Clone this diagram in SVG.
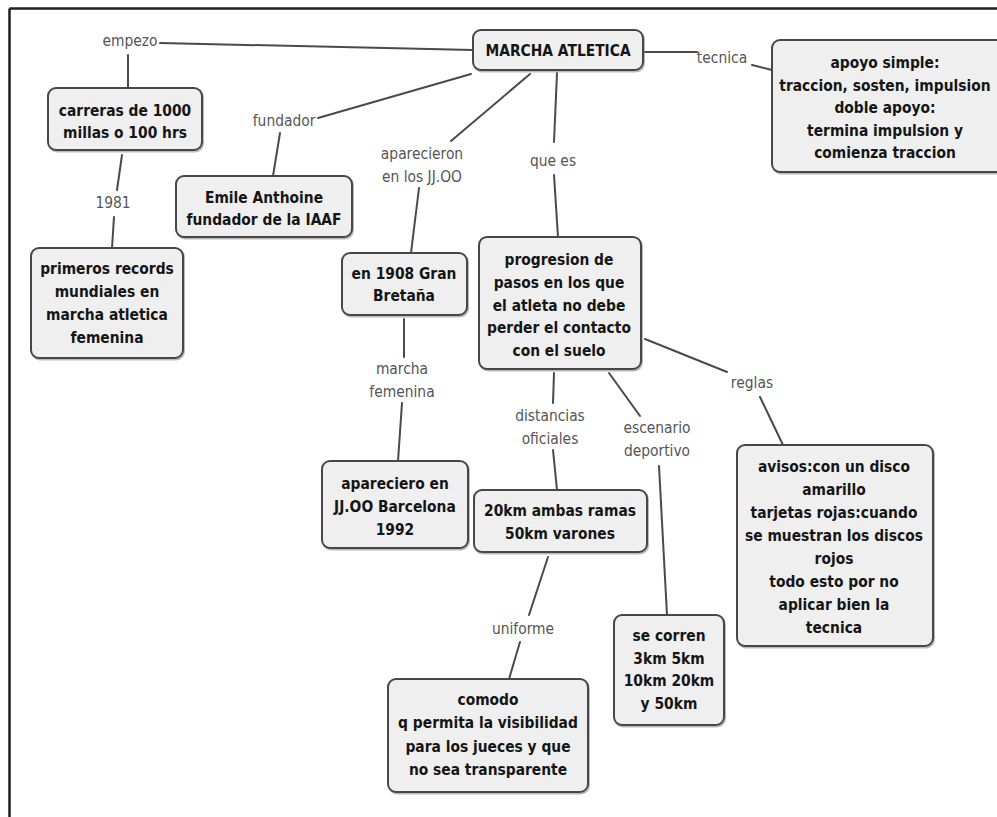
<svg xmlns="http://www.w3.org/2000/svg" width="997" height="817" viewBox="0 0 997 817">
  <style>
    .frame { stroke: #1e1e1e; stroke-width: 2.5; fill: none; }
    .box { fill: #efefef; stroke: #474747; stroke-width: 2; }
    .shadow { fill: none; stroke: #8a8a8a; stroke-width: 2; opacity: 0.6; }
    text { transform-box: fill-box; transform-origin: 50% 50%; transform: scaleX(0.84); }
    .node-text { font-family: "DejaVu Sans", Verdana, sans-serif; font-weight: bold; font-size: 16.5px; fill: #151515; text-anchor: middle; }
    .link-text { font-family: "DejaVu Sans", Verdana, sans-serif; font-size: 16.5px; fill: #555555; text-anchor: middle; }
    .link { stroke: #4a4a4a; stroke-width: 2; fill: none; stroke-linecap: round; }
  </style>

  <rect x="0" y="0" width="997" height="817" fill="#ffffff"/>

  <!-- page frame (top and left edges) -->
  <line class="frame" x1="9.5" y1="8.5" x2="997" y2="8.5"/>
  <line class="frame" x1="9.5" y1="8.5" x2="9.5" y2="817"/>

  <!-- connectors -->
  <g id="connectors">
    <line class="link" x1="160" y1="43" x2="473" y2="50"/>
    <line class="link" x1="128" y1="55" x2="128" y2="88"/>
    <line class="link" x1="122" y1="155" x2="117" y2="190"/>
    <line class="link" x1="114" y1="217" x2="112" y2="248"/>
    <line class="link" x1="471" y1="74" x2="318" y2="118"/>
    <line class="link" x1="280" y1="133" x2="273" y2="176"/>
    <line class="link" x1="530" y1="74" x2="451" y2="141"/>
    <line class="link" x1="419" y1="188" x2="411" y2="253"/>
    <line class="link" x1="557" y1="73" x2="554" y2="142"/>
    <line class="link" x1="554" y1="175" x2="558" y2="237"/>
    <line class="link" x1="643" y1="52" x2="697" y2="52"/>
    <line class="link" x1="752" y1="65" x2="772" y2="70"/>
    <line class="link" x1="404" y1="319" x2="404" y2="357"/>
    <line class="link" x1="402" y1="403" x2="398" y2="461"/>
    <line class="link" x1="554" y1="373" x2="553" y2="403"/>
    <line class="link" x1="553" y1="450" x2="557" y2="490"/>
    <line class="link" x1="609" y1="373" x2="640" y2="416"/>
    <line class="link" x1="659" y1="466" x2="667" y2="615"/>
    <line class="link" x1="645" y1="339" x2="727" y2="372"/>
    <line class="link" x1="760" y1="397" x2="783" y2="445"/>
    <line class="link" x1="548" y1="557" x2="529" y2="615"/>
    <line class="link" x1="520" y1="642" x2="509" y2="679"/>
  </g>

  <!-- connector labels -->
  <g id="labels">
    <text class="link-text" x="130" y="46.5">empezo</text>
    <text class="link-text" x="284" y="126.5">fundador</text>
    <text class="link-text" x="113" y="208.5">1981</text>
    <text class="link-text" x="422" y="159.5">aparecieron</text>
    <text class="link-text" x="422" y="182">en los JJ.OO</text>
    <text class="link-text" x="553" y="166.5">que es</text>
    <text class="link-text" x="722" y="63.5">tecnica</text>
    <text class="link-text" x="402" y="374.5">marcha</text>
    <text class="link-text" x="402" y="397.5">femenina</text>
    <text class="link-text" x="550" y="421.5">distancias</text>
    <text class="link-text" x="550" y="444.5">oficiales</text>
    <text class="link-text" x="657" y="433.5">escenario</text>
    <text class="link-text" x="657" y="456.5">deportivo</text>
    <text class="link-text" x="752" y="388.5">reglas</text>
    <text class="link-text" x="523" y="634.5">uniforme</text>
  </g>

  <!-- concept nodes -->
  <g id="marcha-atletica">
    <rect class="shadow" x="474" y="31.5" width="170" height="40" rx="8"/>
    <rect class="box" x="473" y="30" width="170" height="40" rx="8"/>
    <text class="node-text" x="558" y="56.5">MARCHA ATLETICA</text>
  </g>

  <g id="tecnica">
    <rect class="shadow" x="773" y="41.5" width="232" height="132" rx="8"/>
    <rect class="box" x="772" y="40" width="232" height="132" rx="8"/>
    <text class="node-text" x="885" y="68.5">apoyo simple:</text>
    <text class="node-text" x="885" y="91">traccion, sosten, impulsion</text>
    <text class="node-text" x="885" y="113.5">doble apoyo:</text>
    <text class="node-text" x="885" y="136">termina impulsion y</text>
    <text class="node-text" x="885" y="158.5">comienza traccion</text>
  </g>

  <g id="carreras">
    <rect class="shadow" x="49" y="89.5" width="154" height="62" rx="8"/>
    <rect class="box" x="48" y="88" width="154" height="62" rx="8"/>
    <text class="node-text" x="125" y="116.5">carreras de 1000</text>
    <text class="node-text" x="125" y="138.5">millas o 100 hrs</text>
  </g>

  <g id="emile">
    <rect class="shadow" x="177" y="177.5" width="176" height="61" rx="8"/>
    <rect class="box" x="176" y="176" width="176" height="61" rx="8"/>
    <text class="node-text" x="264" y="203.5">Emile Anthoine</text>
    <text class="node-text" x="264" y="225">fundador de la IAAF</text>
  </g>

  <g id="primeros-records">
    <rect class="shadow" x="32" y="249.5" width="152" height="110" rx="8"/>
    <rect class="box" x="31" y="248" width="152" height="110" rx="8"/>
    <text class="node-text" x="107" y="274.5">primeros records</text>
    <text class="node-text" x="107" y="297.5">mundiales en</text>
    <text class="node-text" x="107" y="320.5">marcha atletica</text>
    <text class="node-text" x="107" y="343.5">femenina</text>
  </g>

  <g id="gran-bretana">
    <rect class="shadow" x="343" y="254.5" width="125" height="62" rx="8"/>
    <rect class="box" x="342" y="253" width="125" height="62" rx="8"/>
    <text class="node-text" x="404" y="279.5">en 1908 Gran</text>
    <text class="node-text" x="404" y="301.5">Bretaña</text>
  </g>

  <g id="barcelona">
    <rect class="shadow" x="323" y="462.5" width="146" height="87" rx="8"/>
    <rect class="box" x="322" y="461" width="146" height="87" rx="8"/>
    <text class="node-text" x="395" y="489.5">apareciero en</text>
    <text class="node-text" x="395" y="512.5">JJ.OO Barcelona</text>
    <text class="node-text" x="395" y="535">1992</text>
  </g>

  <g id="progresion">
    <rect class="shadow" x="480" y="238.5" width="162" height="132" rx="8"/>
    <rect class="box" x="479" y="237" width="162" height="132" rx="8"/>
    <text class="node-text" x="559" y="265.5">progresion de</text>
    <text class="node-text" x="559" y="288">pasos en los que</text>
    <text class="node-text" x="559" y="311">el atleta no debe</text>
    <text class="node-text" x="559" y="333.5">perder el contacto</text>
    <text class="node-text" x="559" y="356">con el suelo</text>
  </g>

  <g id="distancias">
    <rect class="shadow" x="475" y="491.5" width="173" height="62" rx="8"/>
    <rect class="box" x="474" y="490" width="173" height="62" rx="8"/>
    <text class="node-text" x="560" y="516.5">20km ambas ramas</text>
    <text class="node-text" x="560" y="539.5">50km varones</text>
  </g>

  <g id="reglas">
    <rect class="shadow" x="738" y="446.5" width="196" height="201" rx="8"/>
    <rect class="box" x="737" y="445" width="196" height="201" rx="8"/>
    <text class="node-text" x="834" y="472.5">avisos:con un disco</text>
    <text class="node-text" x="834" y="495.5">amarillo</text>
    <text class="node-text" x="834" y="518.5">tarjetas rojas:cuando</text>
    <text class="node-text" x="834" y="541.5">se muestran los discos</text>
    <text class="node-text" x="834" y="564.5">rojos</text>
    <text class="node-text" x="834" y="587.5">todo esto por no</text>
    <text class="node-text" x="834" y="610.5">aplicar bien la</text>
    <text class="node-text" x="834" y="633.5">tecnica</text>
  </g>

  <g id="escenario">
    <rect class="shadow" x="615" y="616.5" width="110" height="110" rx="8"/>
    <rect class="box" x="614" y="615" width="110" height="110" rx="8"/>
    <text class="node-text" x="669" y="641.5">se corren</text>
    <text class="node-text" x="669" y="664">3km 5km</text>
    <text class="node-text" x="669" y="686.5">10km 20km</text>
    <text class="node-text" x="669" y="709">y 50km</text>
  </g>

  <g id="uniforme">
    <rect class="shadow" x="389" y="680.5" width="200" height="113" rx="8"/>
    <rect class="box" x="388" y="679" width="200" height="113" rx="8"/>
    <text class="node-text" x="488" y="705.5">comodo</text>
    <text class="node-text" x="488" y="728.5">q permita la visibilidad</text>
    <text class="node-text" x="488" y="752">para los jueces y que</text>
    <text class="node-text" x="488" y="775">no sea transparente</text>
  </g>
</svg>
